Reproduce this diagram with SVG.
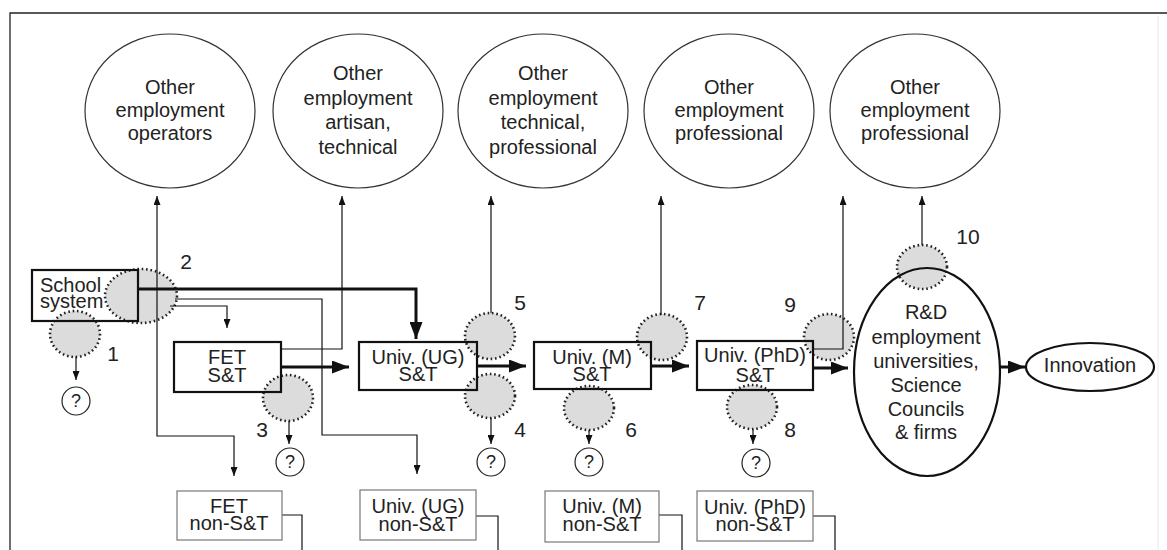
<svg xmlns="http://www.w3.org/2000/svg" width="1167" height="550" viewBox="0 0 1167 550">
  <defs>
    <marker id="arrowThin" markerUnits="userSpaceOnUse" markerWidth="9" markerHeight="7" refX="9" refY="3.5" orient="auto">
      <path d="M0,0 L9,3.5 L0,7 z" fill="#111"/>
    </marker>
    <marker id="arrowThick" markerUnits="userSpaceOnUse" markerWidth="17" markerHeight="13" refX="17" refY="6.5" orient="auto">
      <path d="M0,0 L17,6.5 L0,13 z" fill="#111"/>
    </marker>
    <style>
      text { font-family: "Liberation Sans", Arial, sans-serif; fill: #222; }
      .t { font-size: 20px; text-anchor: middle; }
      .num { font-size: 21px; text-anchor: middle; }
      .q { font-size: 18px; text-anchor: middle; }
      .emp { fill: none; stroke: #333; stroke-width: 1.2; }
      .box { fill: none; stroke: #111; stroke-width: 2.2; }
      .box2 { fill: none; stroke: #777; stroke-width: 1.2; }
      .leak { fill: #dcdcdc; stroke: #222; stroke-width: 2.6; stroke-dasharray: 1.6 2.8; }
      .qc { fill: none; stroke: #222; stroke-width: 1.2; }
      .thin { fill: none; stroke: #111; stroke-width: 1.2; }
      .thinA { fill: none; stroke: #111; stroke-width: 1.2; marker-end: url(#arrowThin); }
      .thickA { fill: none; stroke: #111; stroke-width: 3; marker-end: url(#arrowThick); }
      .end { fill: none; stroke: #111; stroke-width: 2.2; }
    </style>
  </defs>

  <rect width="1167" height="550" fill="#fff"/>

  <!-- frame -->
  <path d="M10,550 V13 H1167" fill="none" stroke="#222" stroke-width="1.3"/>
  <path d="M1158,16 V550" fill="none" stroke="#e8e8e8" stroke-width="1"/>

  <!-- leakage points (dotted) -->
  <g id="leaks">
    <ellipse id="leak1" class="leak" cx="75" cy="334" rx="25" ry="23"/>
    <ellipse id="leak2" class="leak" cx="141" cy="296" rx="36" ry="27"/>
    <ellipse id="leak3" class="leak" cx="288" cy="398" rx="25" ry="23"/>
    <ellipse id="leak4" class="leak" cx="490" cy="396" rx="25" ry="22"/>
    <ellipse id="leak5" class="leak" cx="490" cy="336" rx="25" ry="23"/>
    <ellipse id="leak6" class="leak" cx="589" cy="408" rx="25" ry="22"/>
    <ellipse id="leak7" class="leak" cx="662" cy="337" rx="25" ry="23"/>
    <ellipse id="leak8" class="leak" cx="752" cy="407" rx="25" ry="22"/>
    <ellipse id="leak9" class="leak" cx="829" cy="337" rx="25" ry="23"/>
    <ellipse id="leak10" class="leak" cx="922" cy="267" rx="25" ry="22"/>
  </g>

  <!-- connectors -->
  <g id="connectors">
    <!-- main S&T pipeline -->
    <path class="thickA" d="M138,289 H416 V339"/>
    <path class="thickA" d="M281,367 H349"/>
    <path class="thickA" d="M477,366 H526"/>
    <path class="thickA" d="M651,366 H689"/>
    <path class="thickA" d="M813,368 H848"/>
    <path class="thickA" d="M1000,367 H1025"/>

    <!-- flows out of the school system -->
    <path class="thinA" d="M157,300 V196"/>
    <path class="thinA" d="M157,300 V436 H234 V476"/>
    <path class="thinA" d="M170,306 H227 V328"/>
    <path class="thinA" d="M175,299 H322 V435 H417 V474"/>

    <!-- flows to other employment -->
    <path class="thinA" d="M281,349 H342 V196"/>
    <path class="thinA" d="M491,313 V196"/>
    <path class="thinA" d="M661,315 V196"/>
    <path class="thinA" d="M813,349 H843 V196"/>
    <path class="thinA" d="M922,245 V196"/>

    <!-- unknown destinations -->
    <path class="thinA" d="M76,357 V380"/>
    <path class="thinA" d="M289,421 V444"/>
    <path class="thinA" d="M491,418 V444"/>
    <path class="thinA" d="M589,430 V444"/>
    <path class="thinA" d="M753,429 V444"/>

    <!-- non-S&T continuations -->
    <path class="thin" d="M282,515 H302 V550"/>
    <path class="thin" d="M476,516 H498 V550"/>
    <path class="thin" d="M659,515 H682 V550"/>
    <path class="thin" d="M813,516 H835 V550"/>
  </g>

  <!-- other employment -->
  <g id="emp-operators">
    <ellipse class="emp" cx="170" cy="111" rx="85" ry="77"/>
    <text class="t" x="170" y="94">Other</text>
    <text class="t" x="170" y="117">employment</text>
    <text class="t" x="170" y="140">operators</text>
  </g>
  <g id="emp-artisan">
    <ellipse class="emp" cx="358" cy="111" rx="85" ry="77"/>
    <text class="t" x="358" y="80">Other</text>
    <text class="t" x="358" y="105">employment</text>
    <text class="t" x="358" y="129">artisan,</text>
    <text class="t" x="358" y="154">technical</text>
  </g>
  <g id="emp-technical">
    <ellipse class="emp" cx="543" cy="111" rx="85" ry="77"/>
    <text class="t" x="543" y="80">Other</text>
    <text class="t" x="543" y="105">employment</text>
    <text class="t" x="543" y="129">technical,</text>
    <text class="t" x="543" y="154">professional</text>
  </g>
  <g id="emp-professional-1">
    <ellipse class="emp" cx="729" cy="111" rx="85" ry="77"/>
    <text class="t" x="729" y="94">Other</text>
    <text class="t" x="729" y="117">employment</text>
    <text class="t" x="729" y="140">professional</text>
  </g>
  <g id="emp-professional-2">
    <ellipse class="emp" cx="915" cy="111" rx="85" ry="77"/>
    <text class="t" x="915" y="94">Other</text>
    <text class="t" x="915" y="117">employment</text>
    <text class="t" x="915" y="140">professional</text>
  </g>

  <!-- S&T pipeline -->
  <g id="school">
    <rect class="box" x="32" y="270" width="106" height="51"/>
    <text x="40" y="292" font-size="20">School</text>
    <text x="40" y="308" font-size="20">system</text>
  </g>
  <g id="fet-st">
    <rect class="box" x="174" y="342" width="107" height="50"/>
    <text class="t" x="227" y="364">FET</text>
    <text class="t" x="227" y="382">S&amp;T</text>
  </g>
  <g id="ug-st">
    <rect class="box" x="359" y="342" width="118" height="48"/>
    <text class="t" x="418" y="364">Univ. (UG)</text>
    <text class="t" x="418" y="381">S&amp;T</text>
  </g>
  <g id="m-st">
    <rect class="box" x="534" y="342" width="117" height="47"/>
    <text class="t" x="592" y="364">Univ. (M)</text>
    <text class="t" x="592" y="381">S&amp;T</text>
  </g>
  <g id="phd-st">
    <rect class="box" x="697" y="341" width="116" height="49"/>
    <text class="t" x="755" y="362">Univ. (PhD)</text>
    <text class="t" x="755" y="382">S&amp;T</text>
  </g>
  <g id="rd">
    <ellipse class="end" cx="927" cy="372" rx="73" ry="104"/>
    <text class="t" x="926" y="319">R&amp;D</text>
    <text class="t" x="926" y="344">employment</text>
    <text class="t" x="926" y="368">universities,</text>
    <text class="t" x="926" y="392">Science</text>
    <text class="t" x="926" y="416">Councils</text>
    <text class="t" x="926" y="439">&amp; firms</text>
  </g>
  <g id="innovation">
    <ellipse class="end" cx="1090" cy="367" rx="64" ry="24"/>
    <text class="t" x="1090" y="372">Innovation</text>
  </g>

  <!-- non-S&T destinations -->
  <g id="fet-nonst">
    <rect class="box2" x="177" y="491" width="105" height="49"/>
    <text class="t" x="229" y="513">FET</text>
    <text class="t" x="229" y="530">non-S&amp;T</text>
  </g>
  <g id="ug-nonst">
    <rect class="box2" x="360" y="490" width="116" height="50"/>
    <text class="t" x="418" y="513">Univ. (UG)</text>
    <text class="t" x="418" y="531">non-S&amp;T</text>
  </g>
  <g id="m-nonst">
    <rect class="box2" x="545" y="491" width="114" height="51"/>
    <text class="t" x="602" y="513">Univ. (M)</text>
    <text class="t" x="602" y="531">non-S&amp;T</text>
  </g>
  <g id="phd-nonst">
    <rect class="box2" x="697" y="491" width="116" height="50"/>
    <text class="t" x="755" y="514">Univ. (PhD)</text>
    <text class="t" x="755" y="531">non-S&amp;T</text>
  </g>

  <!-- unknown destinations -->
  <g id="unknown1"><circle class="qc" cx="76" cy="401" r="14"/><text class="q" x="76" y="407">?</text></g>
  <g id="unknown3"><circle class="qc" cx="290" cy="462" r="14"/><text class="q" x="290" y="468">?</text></g>
  <g id="unknown4"><circle class="qc" cx="491" cy="462" r="14"/><text class="q" x="491" y="468">?</text></g>
  <g id="unknown6"><circle class="qc" cx="589" cy="462" r="14"/><text class="q" x="589" y="468">?</text></g>
  <g id="unknown8"><circle class="qc" cx="756" cy="463" r="14"/><text class="q" x="756" y="469">?</text></g>

  <!-- leakage point numbers -->
  <g id="labels">
    <text class="num" x="113" y="361">1</text>
    <text class="num" x="186" y="269">2</text>
    <text class="num" x="262" y="437">3</text>
    <text class="num" x="520" y="437">4</text>
    <text class="num" x="520" y="310">5</text>
    <text class="num" x="631" y="437">6</text>
    <text class="num" x="700" y="310">7</text>
    <text class="num" x="790" y="437">8</text>
    <text class="num" x="790" y="312">9</text>
    <text class="num" x="968" y="244">10</text>
  </g>
</svg>
